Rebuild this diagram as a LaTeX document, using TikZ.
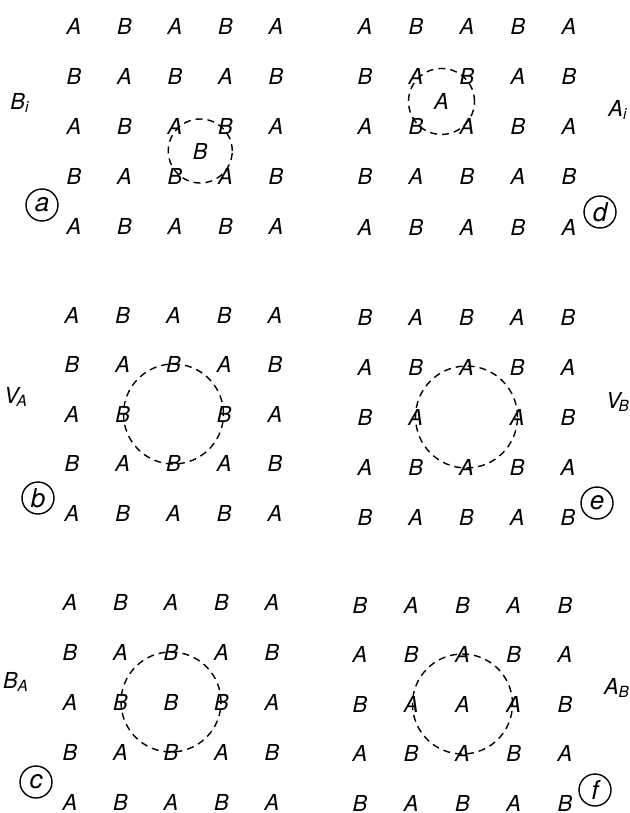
\documentclass[tikz,border=0pt]{standalone}
\usepackage{fontspec}
\setsansfont{TeX Gyre Heros}
\usetikzlibrary{calc}

\tikzset{
  site/.style={inner sep=0pt, font=\sffamily\itshape\fontsize{11}{12}\selectfont},
  sphere/.style={dash pattern=on 3.5pt off 2.5pt, line width=0.7pt},
  tag/.style={draw, circle, line width=0.7pt, minimum size=16pt, inner sep=0pt,
    font=\sffamily\itshape\fontsize{13}{14}\selectfont},
  defect/.style={inner sep=0pt, font=\sffamily\itshape\fontsize{11}{12}\selectfont}
}

% #1 name, #2 x, #3 y, #4 dx, #5 dy, #6 rows (V = vacant)
\newcommand{\lattice}[6]{%
  \foreach \row [count=\r from 0] in {#6} {
    \foreach \ch [count=\c from 0] in \row {
      \if\ch V\else
        \node[site] (#1-\r-\c) at ({#2+#4*\c},{#3+#5*\r}) {\ch};
      \fi
    }
  }
}

\begin{document}
\begin{tikzpicture}[x=0.5pt, y=-0.5pt]
  \useasboundingbox (0,0) rectangle (630,813);

  % Panel a
  \lattice{a}{74}{26}{50.5}{50}{{A,B,A,B,A},{B,A,B,A,B},{A,B,A,B,A},{B,A,B,A,B},{A,B,A,B,A}}
  \node[site] (a-c) at ($(a-2-2)!.5!(a-3-3)$) {B};
  \draw[sphere] (a-c) circle (16pt);
  \node[defect] (a-lab) at (20,103) {B\textsubscript{i}};
  \node[tag] (a-tag) at (42,205) {a};

  % Panel d
  \lattice{d}{365}{26}{51}{50.3}{{A,B,A,B,A},{B,A,B,A,B},{A,B,A,B,A},{B,A,B,A,B},{A,B,A,B,A}}
  \node[site] (d-c) at ($(d-1-1)!.5!(d-2-2)$) {A};
  \draw[sphere] (d-c) circle (16.5pt);
  \node[defect] (d-lab) at (618,110) {A\textsubscript{i}};
  \node[tag] (d-tag) at (600,212) {d};

  % Panel b
  \lattice{b}{72}{315}{50.75}{49.5}{{A,B,A,B,A},{B,A,B,A,B},{A,B,V,B,A},{B,A,B,A,B},{A,B,A,B,A}}
  \coordinate (b-c) at ($(b-1-2)!.5!(b-3-2)$);
  \draw[sphere] (b-c) circle (25pt);
  \node[defect] (b-lab) at (16,397) {V\kern-1pt\textsubscript{A}};
  \node[tag] (b-tag) at (38,498) {b};

  % Panel e
  \lattice{e}{365}{317}{50.75}{50}{{B,A,B,A,B},{A,B,A,B,A},{B,A,V,A,B},{A,B,A,B,A},{B,A,B,A,B}}
  \coordinate (e-c) at ($(e-1-2)!.5!(e-3-2)$);
  \draw[sphere] (e-c) circle (25.5pt);
  \node[defect] (e-lab) at (618,402) {V\kern-1pt\textsubscript{B}};
  \node[tag] (e-tag) at (597,503) {e};

  % Panel c
  \lattice{c}{70}{602}{50.5}{50}{{A,B,A,B,A},{B,A,B,A,B},{A,B,B,B,A},{B,A,B,A,B},{A,B,A,B,A}}
  \draw[sphere] (c-2-2) circle (25pt);
  \node[defect] (c-lab) at (16,682) {B\textsubscript{A}};
  \node[tag] (c-tag) at (36,782) {c};

  % Panel f
  \lattice{f}{360}{605}{51.25}{49.5}{{B,A,B,A,B},{A,B,A,B,A},{B,A,A,A,B},{A,B,A,B,A},{B,A,B,A,B}}
  \draw[sphere] (f-2-2) circle (25pt);
  \node[defect] (f-lab) at (617,688) {A\textsubscript{B}};
  \node[tag] (f-tag) at (595,790) {f};
\end{tikzpicture}
\end{document}
